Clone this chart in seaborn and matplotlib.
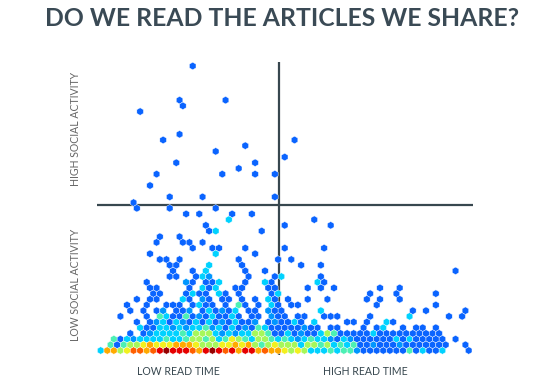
import numpy as np
import matplotlib
matplotlib.use("Agg")
import matplotlib.pyplot as plt
import seaborn as sns
from matplotlib.colors import ListedColormap, BoundaryNorm

title = "DO WE READ THE ARTICLES WE SHARE?"
x_labels = ["LOW READ TIME", "HIGH READ TIME"]
y_labels = ["LOW SOCIAL ACTIVITY", "HIGH SOCIAL ACTIVITY"]

# hex cells per social-activity bin: (read-time bin, density level)
row0 = [(0,3),(1,7),(2,7),(3,5),(4,6),(5,8),(6,8),(7,7),(8,8),(9,9),(10,10),(11,9),(12,9),(13,9),(14,8),(15,7),
        (16,9),(17,10),(18,9),(19,8),(20,9),(21,7),(22,9),(23,9),(24,7),(25,8),(26,7),(27,7),(28,6),(29,5),(30,6),
        (31,5),(32,3),(33,3),(34,3),(35,4),(36,3),(37,4),(38,4),(39,2),(40,1),(41,1),(42,1),(43,1),(44,1),(45,1),
        (46,1),(47,4),(48,1),(49,3),(50,1),(51,1),(52,3),(56,1)]
row1 = [(1.5,4),(2.5,1),(3.5,4),(4.5,5),(5.5,5),(6.5,6),(7.5,7),(8.5,6),(9.5,6),(10.5,6),(11.5,7),(12.5,7),(13.5,7),
        (14.5,6),(15.5,5),(16.5,5),(17.5,5),(18.5,6),(19.5,6),(20.5,7),(21.5,6),(22.5,7),(23.5,5),(24.5,4),(25.5,5),
        (26.5,6),(27.5,5),(28.5,5),(29.5,5),(30.5,3),(31.5,5),(32.5,5),(33.5,4),(34.5,5),(35.5,3),(36.5,4),(37.5,3),
        (38.5,4),(39.5,1),(40.5,1),(41.5,2),(42.5,1),(43.5,1),(44.5,1),(45.5,2),(46.5,1),(47.5,1),(48.5,1),(49.5,1),
        (50.5,1),(51.5,1),(52.5,1),(55.5,1)]
row2 = [(2,4),(3,1),(4,3),(5,2),(6,3),(7,3),(8,3),(9,3),(10,4),(11,3),(12,3),(13,4),(14,5),(15,5),(16,4),(17,5),
        (18,3),(19,4),(20,6),(21,5),(22,4),(23,3),(24,5),(25,5),(26,4),(27,3),(28,4),(29,3),(30,2),(31,3),(32,4),
        (33,3),(34,3),(35,2),(36,1),(37,3),(38,2),(39,1),(40,1),(41,1),(42,1),(43,1),(44,1),(45,3),(46,1),(47,3),
        (48,1),(49,1),(50,1),(51,1),(52,1),(54,1)]
row3 = [(4.5,1),(6.5,1),(7.5,2),(8.5,3),(9.5,3),(10.5,3),(11.5,3),(12.5,4),(13.5,3),(14.5,5),(15.5,5),(16.5,5),
        (17.5,3),(18.5,2),(19.5,3),(20.5,2),(21.5,3),(22.5,3),(23.5,5),(24.5,5),(25.5,4),(26.5,1),(27.5,1),(28.5,3),
        (29.5,1),(30.5,2),(31.5,1),(32.5,1),(33.5,3),(34.5,5),(35.5,4),(36.5,1),(37.5,1),(38.5,1),(39.5,1),(40.5,1),
        (41.5,3),(42.5,1),(43.5,1),(44.5,1),(45.5,1),(46.5,1),(47.5,1),(48.5,1),(49.5,1),(50.5,1),(51.5,1)]
row4 = [(6,3),(7,1),(8,1),(9,3),(10,3),(11,2),(12,3),(13,2),(14,3),(15,3),(16,4),(17,2),(18,3),(19,1),(20,3),(21,1),
        (22,2),(23,1),(24,4),(25,3),(26,1),(27,1),(28,1),(29,1),(30,1),(31,2),(32,1),(33,1),(35,1),(36,1),(40,1),
        (42,1),(43,3),(46,1),(48,1),(49,1),(51,1)]
row5 = [(5.5,1),(7.5,1),(8.5,2),(9.5,3),(10.5,1),(11.5,3),(12.5,2),(13.5,1),(14.5,3),(15.5,1),(16.5,3),(17.5,1),
        (18.5,2),(19.5,1),(20.5,3),(21.5,1),(22.5,1),(23.5,2),(25.5,1),(26.5,2),(27.5,1),(28.5,1),(29.5,3),(30.5,1),
        (32.5,3),(37.5,1),(38.5,1),(40.5,1),(43.5,3),(44.5,1)]
row6 = [(3,1),(7,1),(9,4),(10,3),(11,1),(12,1),(13,4),(14,1),(15,2),(16,1),(17,3),(18,1),(19,1),(20,3),(21,1),(23,1),
        (24,1),(26,2),(27,1),(28,1),(30,1),(31,1),(34,1),(35,1),(36,1),(41,1),(47,3),(53,1),(55,1)]
row7 = [(4.5,1),(6.5,1),(8.5,1),(9.5,2),(11.5,1),(12.5,1),(13.5,2),(15.5,1),(16.5,3),(17.5,1),(18.5,2),(19.5,1),
        (20.5,3),(22.5,1),(23.5,1),(25.5,2),(26.5,1),(27.5,1),(33.5,3),(47.5,1),(49.5,1),(55.5,1)]
row8 = [(4,1),(7,1),(10,1),(11,1),(12,1),(14,1),(15,3),(16,1),(17,1),(19,1),(21,4),(22,1),(24,1),(26,3),(27,1),(29,1),
        (30,1),(42,1),(51,1)]
row9 = [(5.5,1),(7.5,1),(8.5,1),(12.5,3),(13.5,1),(15.5,2),(16.5,1),(18.5,1),(19.5,1),(21.5,1),(23.5,1),(25.5,3),
        (26.5,1),(28.5,1),(31.5,1),(34.5,1),(40.5,1),(42.5,1),(45.5,1)]
row10 = [(8,1),(9,1),(13,1),(14,3),(15,1),(16,1),(18,3),(19,1),(21,1),(26,1),(27,3),(41,1),(45,1),(51,1)]
row11 = [(7.5,1),(8.5,1),(13.5,1),(15.5,3),(16.5,1),(17.5,3),(20.5,1),(21.5,1),(25.5,1),(26.5,1),(31.5,1),(33.5,1),
         (35.5,1),(42.5,1),(45.5,1)]
row12 = [(7,1),(13,2),(14,1),(16,1),(17,1),(18,3),(22,1),(25,3),(26,1),(33,3),(34,1)]
row13 = [(10.5,1),(11.5,1),(14.5,1),(15.5,3),(16.5,2),(22.5,1),(26.5,1),(27.5,3),(33.5,1)]

# sparse upper cells: (read-time bin, social-activity bin, density level)
upper_cells = [(11,14,1),(14,14,1),(16,14,3),(22,14,1),(25,14,1),(54,14,1),
               (10.5,15,1),(11.5,15,1),(16.5,15,3),(21.5,15,1),(30.5,15,1),(33.5,15,1),
               (9,16,1),(10,16,1),(12,16,1),(21,16,1),(27,16,1),(29,16,1),
               (7.5,17,1),(17.5,17,3),(23.5,17,1),
               (14,18,1),(17,18,1),(18,18,1),(22,18,1),(28,18,1),(34,18,1),
               (8.5,19,1),(12.5,19,1),(13.5,19,1),(15.5,19,1),
               (9,20,1),(12,20,1),
               (16.5,21,1),(17.5,21,3),(24.5,21,1),
               (16,22,1),(28,22,1),(35,22,1),
               (19.5,23,3),(32.5,23,1),
               (13,24,1),(15,24,1),(20,24,1),(23,24,1),
               (5.5,25,1),(10.5,25,1),(17.5,25,1),
               (5,26,1),
               (10.5,27,1),(15.5,27,1),(26.5,27,1),
               (7.5,29,1),
               (8.5,31,1),(18.5,31,1),(23.5,31,1),(26.5,31,1),
               (21,32,1),
               (11.5,33,1),(23.5,33,1),
               (28,34,1),
               (17.5,35,1),
               (22,36,1),
               (9.5,37,1),(29.5,37,1),
               (12,38,1),
               (6,42,1),
               (12.5,43,1),
               (12,44,1),(19,44,1),
               (14,50,1)]

level_colors = ["#0a64ff", "#0096ff", "#00d2ff", "#4cf0b4", "#a6f75a",
                "#f2f01e", "#ffaa00", "#ff5f00", "#e60000", "#960000"]

# quadrant divider positions (in bin units)
read_split = 27.14
social_split = 25.55

dense_rows = [row0, row1, row2, row3, row4, row5, row6, row7, row8, row9, row10, row11, row12, row13]
xs, ys, cs = [], [], []
for yi, row in enumerate(dense_rows):
    for xv, lv in row:
        xs.append(xv); ys.append(yi); cs.append(lv)
for xv, yv, lv in upper_cells:
    xs.append(xv); ys.append(yv); cs.append(lv)
df_x = np.array(xs, float)
df_y = np.array(ys, float)
df_c = np.array(cs, float)

sns.set_theme(style="white")
plt.rcParams["font.family"] = ["Lato", "DejaVu Sans"]

fig = plt.figure(figsize=(5.6, 3.78), dpi=100)
ax = fig.add_axes([0.1728, 0.0577, 0.6712, 0.7902])

cmap = ListedColormap(level_colors)
norm = BoundaryNorm(np.arange(0.5, 11.5, 1.0), cmap.N)
ax.hexbin(df_x, df_y, C=df_c, reduce_C_function=np.max, gridsize=(57, 26),
          extent=(0, 57, 0, 52), cmap=cmap, norm=norm,
          edgecolors="white", linewidths=0.3, zorder=3)

line_col = "#37474f"
ax.plot([read_split, read_split], [-0.8, 50.7], color=line_col, lw=1.6, zorder=1,
        solid_capstyle="butt")
ax.axhline(social_split, color=line_col, lw=1.6, zorder=1)

ax.set_xlim(-0.6, 56.6)
ax.set_ylim(-1, 51.5)
ax.set_xticks([]); ax.set_yticks([])
sns.despine(ax=ax, left=True, bottom=True)

fig.text(0.504, 0.952, title, ha="center", va="center", fontsize=17.8,
         fontweight="bold", color="#3a4a55", family=["Lato", "DejaVu Sans"])
fig.text(0.318, 0.0185, x_labels[0], ha="center", va="center", fontsize=7.6, color="#37474f")
fig.text(0.652, 0.0185, x_labels[1], ha="center", va="center", fontsize=7.6, color="#37474f")
fig.text(0.134, 0.246, y_labels[0], ha="center", va="center", rotation=90, fontsize=7.6, color="#666666")
fig.text(0.134, 0.659, y_labels[1], ha="center", va="center", rotation=90, fontsize=7.6, color="#666666")

fig.savefig("out.png", dpi=100, facecolor="white")
